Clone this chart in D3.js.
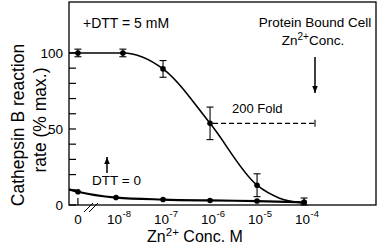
<!DOCTYPE html>
<html>
<head>
<meta charset="utf-8">
<script src="https://cdn.jsdelivr.net/npm/d3@7"></script>
<style>
  html, body { margin: 0; padding: 0; background: #fff; }
  svg { display: block; font-family: "Liberation Sans", Arial, Helvetica, sans-serif; }
</style>
</head>
<body>
<svg id="chart" width="379" height="246"></svg>
<script>
// zero concentration is drawn at a pseudo position left of the axis break
const ZERO_AT = Math.pow(10, -8.81);

// +DTT = 5 mM series
const dttConc = [0, 1.4e-8, 1e-7, 1e-6, 1e-5, 1e-4];
const dttRate = [100, 100, 89.5, 53.7, 13, 1.8];
const dttErr = [2.5, 2.5, 5.5, 10.7, 7.5, 2.8];
// fitted curve
const dttFitConc = [1e-9, 0, 1.4e-8, 1e-7, 1e-6, 1e-5, 3e-5, 1e-4];
const dttFitRate = [100, 100, 100, 89.5, 53.7, 13, 4.5, 1.2];

// DTT = 0 series
const noDttConc = [0, 1e-8, 1e-7, 1e-6, 1e-5, 1e-4];
const noDttRate = [8.7, 4.9, 3.6, 3, 2.6, 1.8];
const noDttFitConc = [1e-9, 0, 1e-8, 1e-7, 1e-6, 1e-5, 1e-4];
const noDttFitRate = [10.3, 8.7, 4.9, 3.6, 3, 2.6, 1.8];

const xTicks = [0, 1e-8, 1e-7, 1e-6, 1e-5, 1e-4];
const xExps = ['-8', '-7', '-6', '-5', '-4'];
const yLabelTicks = [0, 50, 100];
const yMinorTicks = [0, 10, 20, 30, 40, 50, 60, 70, 80, 90, 100];

const plotL = 69, plotR = 376, plotT = 2, plotB = 205;

const x = d3.scaleLog().domain([1e-9, Math.pow(10, -2.47)]).range([plotL, plotR]);
const y = d3.scaleLinear().domain([0, 133.5]).range([plotB, plotT]);
const px = (c) => x(c === 0 ? ZERO_AT : c);

const svg = d3.select('#chart');

// frame
svg.append('rect')
  .attr('x', plotL).attr('y', plotT)
  .attr('width', plotR - plotL).attr('height', plotB - plotT)
  .attr('fill', 'none').attr('stroke', '#000').attr('stroke-width', 1.3);

// y ticks (inside)
svg.append('g').selectAll('line')
  .data(yMinorTicks)
  .join('line')
  .attr('x1', plotL).attr('x2', plotL + 7)
  .attr('y1', (d) => y(d)).attr('y2', (d) => y(d))
  .attr('stroke', '#000').attr('stroke-width', 1.2);

svg.append('g').selectAll('text')
  .data(yLabelTicks)
  .join('text')
  .attr('x', 63).attr('y', (d) => y(d) + 5)
  .attr('text-anchor', 'end')
  .attr('font-size', 13.5)
  .text((d) => d);

// x tick at zero
svg.append('line')
  .attr('x1', px(0)).attr('x2', px(0))
  .attr('y1', plotB).attr('y2', plotB - 7)
  .attr('stroke', '#000').attr('stroke-width', 1.2);

// axis break marks
[0, 5].forEach((dx) => {
  svg.append('line')
    .attr('x1', 84 + dx).attr('y1', 212)
    .attr('x2', 93 + dx).attr('y2', 203)
    .attr('stroke', '#000').attr('stroke-width', 1);
});

// x tick labels: "10" and its exponent as separate texts
const xl = svg.append('g').attr('font-size', 13.5);
xl.append('text')
  .attr('x', px(0)).attr('y', 224)
  .attr('text-anchor', 'middle')
  .text('0');
xTicks.slice(1).forEach((t, i) => {
  xl.append('text')
    .attr('x', px(t) + 6).attr('y', 224)
    .attr('text-anchor', 'end')
    .text('10');
  xl.append('text')
    .attr('x', px(t) + 6.5).attr('y', 217)
    .attr('font-size', 9.5)
    .text(xExps[i]);
});

// axis titles
svg.append('text')
  .attr('transform', 'translate(24,125) rotate(-90)')
  .attr('text-anchor', 'middle')
  .attr('font-size', 17.5)
  .text('Cathepsin B reaction');
svg.append('text')
  .attr('transform', 'translate(46,120) rotate(-90)')
  .attr('text-anchor', 'middle')
  .attr('font-size', 17.5)
  .text('rate (% max.)');

const xt = svg.append('text')
  .attr('x', 195).attr('y', 242)
  .attr('text-anchor', 'middle')
  .attr('font-size', 16);
xt.append('tspan').text('Zn');
xt.append('tspan').attr('dy', -6).attr('font-size', 11.5).text('2+');
xt.append('tspan').attr('dy', 6).text(' Conc. M');

// fitted curves
const line = d3.line()
  .x((d) => px(d[0]))
  .y((d) => y(d[1]))
  .curve(d3.curveMonotoneX);

svg.append('path')
  .datum(dttFitConc.map((c, i) => [c, dttFitRate[i]]))
  .attr('d', line)
  .attr('fill', 'none').attr('stroke', '#000').attr('stroke-width', 1.6);

svg.append('path')
  .datum(noDttFitConc.map((c, i) => [c, noDttFitRate[i]]))
  .attr('d', line)
  .attr('fill', 'none').attr('stroke', '#000').attr('stroke-width', 2.2);

// error bars
const eb = svg.append('g').attr('stroke', '#000').attr('stroke-width', 1.1);
dttConc.forEach((c, i) => {
  const cx = px(c);
  const y1 = y(dttRate[i] + dttErr[i]);
  const y2 = y(Math.max(0, dttRate[i] - dttErr[i]));
  eb.append('line').attr('x1', cx).attr('x2', cx).attr('y1', y1).attr('y2', y2);
  eb.append('line').attr('x1', cx - 3.5).attr('x2', cx + 3.5).attr('y1', y1).attr('y2', y1);
  eb.append('line').attr('x1', cx - 3.5).attr('x2', cx + 3.5).attr('y1', y2).attr('y2', y2);
});

// points
svg.append('g').selectAll('circle')
  .data(dttConc.map((c, i) => [c, dttRate[i]]))
  .join('circle')
  .attr('cx', (d) => px(d[0])).attr('cy', (d) => y(d[1]))
  .attr('r', 2.8).attr('fill', '#000');

svg.append('g').selectAll('circle')
  .data(noDttConc.map((c, i) => [c, noDttRate[i]]))
  .join('circle')
  .attr('cx', (d) => px(d[0])).attr('cy', (d) => y(d[1]))
  .attr('r', 2.8).attr('fill', '#000');

// annotations
svg.append('defs').append('marker')
  .attr('id', 'head')
  .attr('viewBox', '0 0 10 10')
  .attr('refX', 10).attr('refY', 5)
  .attr('markerWidth', 7).attr('markerHeight', 5.5)
  .attr('markerUnits', 'userSpaceOnUse')
  .attr('orient', 'auto')
  .attr('preserveAspectRatio', 'none')
  .append('path').attr('d', 'M0,0L10,5L0,10Z').attr('fill', '#000');

svg.append('text')
  .attr('x', 83).attr('y', 28)
  .attr('font-size', 14)
  .text('+DTT = 5 mM');

svg.append('text')
  .attr('x', 315).attr('y', 27)
  .attr('text-anchor', 'middle')
  .attr('font-size', 13.5)
  .text('Protein Bound Cell');

const zc = svg.append('text')
  .attr('x', 313).attr('y', 45)
  .attr('text-anchor', 'middle')
  .attr('font-size', 13.5);
zc.append('tspan').text('Zn');
zc.append('tspan').attr('dy', -5).attr('font-size', 10).text('2+');
zc.append('tspan').attr('dy', 5).text('Conc.');

svg.append('line')
  .attr('x1', 315).attr('x2', 315).attr('y1', 57).attr('y2', 93)
  .attr('stroke', '#000').attr('stroke-width', 1.5)
  .attr('marker-end', 'url(#head)');

svg.append('text')
  .attr('x', 232).attr('y', 113)
  .attr('font-size', 13)
  .text('200 Fold');

svg.append('line')
  .attr('x1', px(1e-6) + 3).attr('x2', 315)
  .attr('y1', y(53.7)).attr('y2', y(53.7))
  .attr('stroke', '#000').attr('stroke-width', 1.1)
  .attr('stroke-dasharray', '5,3');
svg.append('line')
  .attr('x1', 315).attr('x2', 315)
  .attr('y1', y(53.7) - 3.5).attr('y2', y(53.7) + 3.5)
  .attr('stroke', '#000').attr('stroke-width', 1.1);

svg.append('line')
  .attr('x1', 107).attr('x2', 107).attr('y1', 173).attr('y2', 157)
  .attr('stroke', '#000').attr('stroke-width', 1.5)
  .attr('marker-end', 'url(#head)');

svg.append('text')
  .attr('x', 92).attr('y', 185)
  .attr('font-size', 13.5)
  .text('DTT = 0');
</script>
</body>
</html>
